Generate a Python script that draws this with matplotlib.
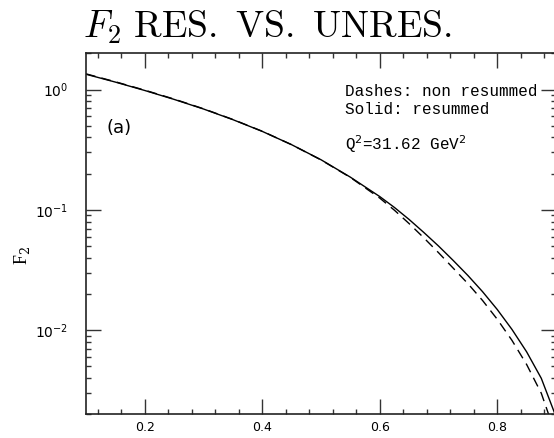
import matplotlib
matplotlib.use("Agg")
import matplotlib.pyplot as plt
from matplotlib.ticker import FixedLocator, FixedFormatter, MultipleLocator, LogLocator, NullFormatter

plt.rcParams["mathtext.fontset"] = "cm"

# F2 structure function vs x at Q^2 = 31.62 GeV^2
x_vals = [0.10, 0.15, 0.20, 0.25, 0.30, 0.35, 0.40, 0.45, 0.50, 0.55, 0.60,
          0.625, 0.65, 0.675, 0.70, 0.725, 0.75, 0.775, 0.80, 0.825, 0.85, 0.875, 0.90]
f2_resummed = [1.340, 1.153, 0.982, 0.828, 0.689, 0.562, 0.449, 0.348, 0.261, 0.187, 0.129,
               0.1047, 0.0832, 0.0649, 0.0501, 0.0380, 0.0285, 0.0209, 0.01486, 0.01016,
               0.00661, 0.00398, 0.00191]
f2_unresummed = [1.350, 1.160, 0.988, 0.833, 0.692, 0.564, 0.450, 0.348, 0.260, 0.186, 0.1253,
                 0.0993, 0.0769, 0.0586, 0.0441, 0.0328, 0.0244, 0.01766, 0.01233, 0.00824,
                 0.00519, 0.00299, 0.00133]

y_major = [1e-2, 1e-1, 1e0]
y_major_labels = [r"$10^{-2}$", r"$10^{-1}$", r"$10^{0}$"]
x_major = [0.2, 0.4, 0.6, 0.8]
x_major_labels = ["0.2", "0.4", "0.6", "0.8"]

fig = plt.figure(figsize=(5.54, 4.38), dpi=100)
ax = fig.add_axes([0.1552, 0.0541, 0.8484, 0.8242])

ax.plot(x_vals, f2_resummed, color="black", lw=1.0)
ax.plot(x_vals, f2_unresummed, color="black", lw=1.0, dashes=(7, 4.5))

ax.set_yscale("log")
ax.set_xlim(0.1, 0.9)
ax.set_ylim(2e-3, 2.0)

ax.xaxis.set_major_locator(FixedLocator(x_major))
ax.xaxis.set_major_formatter(FixedFormatter(x_major_labels))
ax.xaxis.set_minor_locator(MultipleLocator(0.04))
ax.yaxis.set_major_locator(FixedLocator(y_major))
ax.yaxis.set_major_formatter(FixedFormatter(y_major_labels))
ax.yaxis.set_minor_locator(LogLocator(base=10, subs=range(2, 10)))
ax.yaxis.set_minor_formatter(NullFormatter())

ax.tick_params(which="both", direction="in", top=True, right=True, color="#333333", width=1.0)
ax.tick_params(which="major", length=11)
ax.tick_params(which="minor", length=3.8)
ax.tick_params(axis="x", which="major", pad=5, labelsize=9)
ax.tick_params(axis="y", which="major", pad=13, labelsize=10)
for lbl in ax.get_xticklabels() + ax.get_yticklabels():
    lbl.set_family("DejaVu Sans")
    lbl.set_math_fontfamily("dejavusans")
for sp in ax.spines.values():
    sp.set_linewidth(1.2)
    sp.set_color("#222222")

mono = "Liberation Mono"
ax.text(0.551, 0.882, "Dashes: non resummed", transform=ax.transAxes, family=mono,
        fontsize=11.5, va="baseline")
ax.text(0.551, 0.832, "Solid: resummed", transform=ax.transAxes, family=mono,
        fontsize=11.5, va="baseline")
ax.text(0.551, 0.732, r"Q$^2$=31.62 GeV$^2$", transform=ax.transAxes, family=mono,
        fontsize=11.5, va="baseline", math_fontfamily="dejavusans")
ax.text(0.0447, 0.793, "(a)", transform=ax.transAxes, family="DejaVu Sans", fontsize=13,
        va="center")

fig.text(22 / 554, 1 - 255 / 438, r"F$_{2}$", rotation=90, ha="center", va="center",
         family="Liberation Serif", fontsize=13, math_fontfamily="dejavuserif")

fig.text(83 / 554, 1 - 38 / 438, r"$F_2\ \mathrm{RES.\ VS.\ UNRES.}$", fontsize=27,
         ha="left", va="baseline")

fig.savefig("out.png", dpi=100)
